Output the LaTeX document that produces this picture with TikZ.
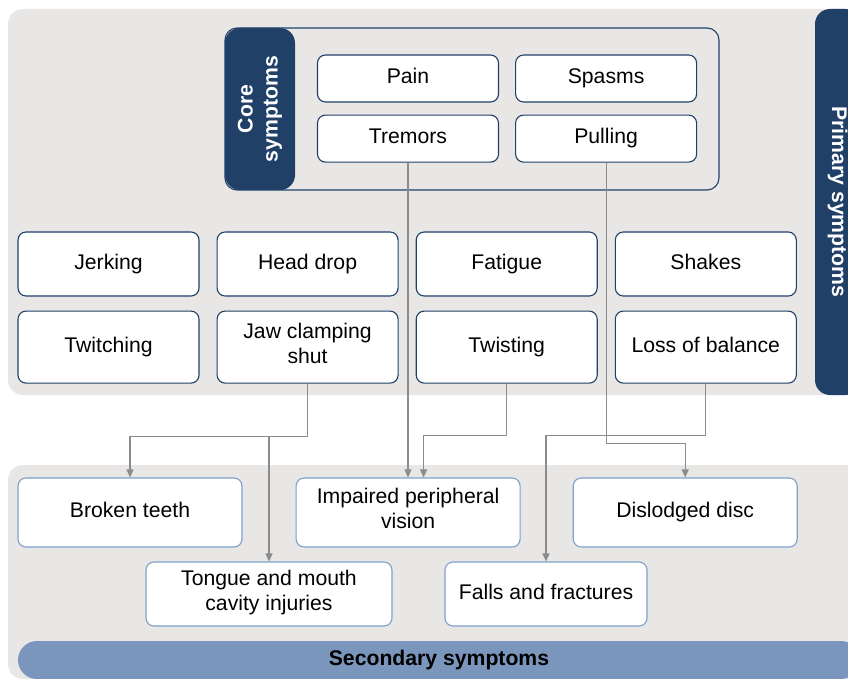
\documentclass[tikz,border=0pt]{standalone}
\usepackage{fontspec}
\setmainfont{Liberation Sans}
\usetikzlibrary{positioning, arrows.meta}
\definecolor{panelgray}{RGB}{232,231,229}
\definecolor{navy}{RGB}{32,64,104}
\definecolor{paleblue}{RGB}{127,159,204}
\definecolor{barblue}{RGB}{122,150,188}
\definecolor{linkgray}{RGB}{140,140,140}
\newcommand{\labelfont}{\fontsize{21.2}{25}\selectfont}
\tikzstyle{panel} = [fill=panelgray, rounded corners=15pt]
\tikzstyle{box} = [rectangle, rounded corners=8pt, inner sep=0pt, align=center, line width=1.1pt, fill=white, font=\labelfont, execute at begin node=\strut, execute at end node=\strut]
\tikzstyle{core} = [box, minimum width=181pt, minimum height=47pt, draw=navy]
\tikzstyle{primary} = [box, minimum width=181pt, draw=navy]
\tikzstyle{secondary} = [box, minimum width=224pt, minimum height=69pt, draw=paleblue]
\tikzstyle{tab} = [rectangle, rounded corners=15pt, inner sep=0pt, align=center, fill=navy, text=white, font=\labelfont\bfseries]
\tikzstyle{arrow} = [draw=linkgray, line width=1.2pt, -{Triangle[length=8pt,width=7pt]}]

\begin{document}
\begin{tikzpicture}[x=1pt, y=-1pt]
\useasboundingbox (0,0) rectangle (848,679);
\clip (0,0) rectangle (848,679);

% panels
\fill [panel] (8,9) rectangle (880,395);
\fill [panel] (8,465) rectangle (880,679);

% core symptoms
\draw [navy, line width=1.1pt, rounded corners=12pt] (225,28) rectangle (719,190);
\node (coretab) [tab, rotate=90, minimum width=162pt, minimum height=70pt] at (260,109) {Core\\symptoms};
\node (pain) [core] at (408,78.5) {Pain};
\node (spasms) [core, right=16pt of pain] {Spasms};
\node (tremors) [core, below=12pt of pain] {Tremors};
\node (pulling) [core, below=12pt of spasms] {Pulling};

% other primary symptoms
\node (jerking) [primary, minimum height=64pt] at (108.5,264) {Jerking};
\node (headdrop) [primary, minimum height=64pt, right=17pt of jerking] {Head drop};
\node (fatigue) [primary, minimum height=64pt, right=17pt of headdrop] {Fatigue};
\node (shakes) [primary, minimum height=64pt, right=17pt of fatigue] {Shakes};
\node (twitching) [primary, minimum height=72pt, below=14pt of jerking] {Twitching};
\node (jaw) [primary, minimum height=72pt, below=14pt of headdrop] {Jaw clamping\\shut};
\node (twisting) [primary, minimum height=72pt, below=14pt of fatigue] {Twisting};
\node (balance) [primary, minimum height=72pt, below=14pt of shakes] {Loss of balance};

\node (primarybar) [tab, rotate=-90, minimum width=386pt, minimum height=45pt] at (837.5,202) {Primary symptoms};

% secondary symptoms
\node (teeth) [secondary] at (130,512.5) {Broken teeth};
\node (vision) [secondary, right=53pt of teeth] {Impaired peripheral\\vision};
\node (disc) [secondary, right=52pt of vision] {Dislodged disc};
\node (tongue) [secondary, minimum width=246pt, minimum height=64pt] at (269,594) {Tongue and mouth\\cavity injuries};
\node (falls) [secondary, minimum width=202pt, minimum height=64pt] at (546,594) {Falls and fractures};

\node (secondarybar) [rectangle, rounded corners=19pt, fill=barblue, minimum width=842pt, minimum height=38pt, inner sep=0pt, font=\labelfont\bfseries] at (439,660) {Secondary symptoms};

\draw [arrow] (jaw.south) -- ++(0,53) -| (teeth.north);
\draw [arrow] (jaw.south) -- ++(0,53) -| (tongue.north);
\draw [arrow] (tremors.south) -- (tremors.south |- vision.north);
\draw [arrow] (twisting.south) -- ++(0,52) -| ([xshift=15.5pt]vision.north);
\draw [arrow] (pulling.south) -- ++(0,281) -| (disc.north);
\draw [arrow] (balance.south) -- ++(0,52) -| (falls.north);

\end{tikzpicture}
\end{document}
